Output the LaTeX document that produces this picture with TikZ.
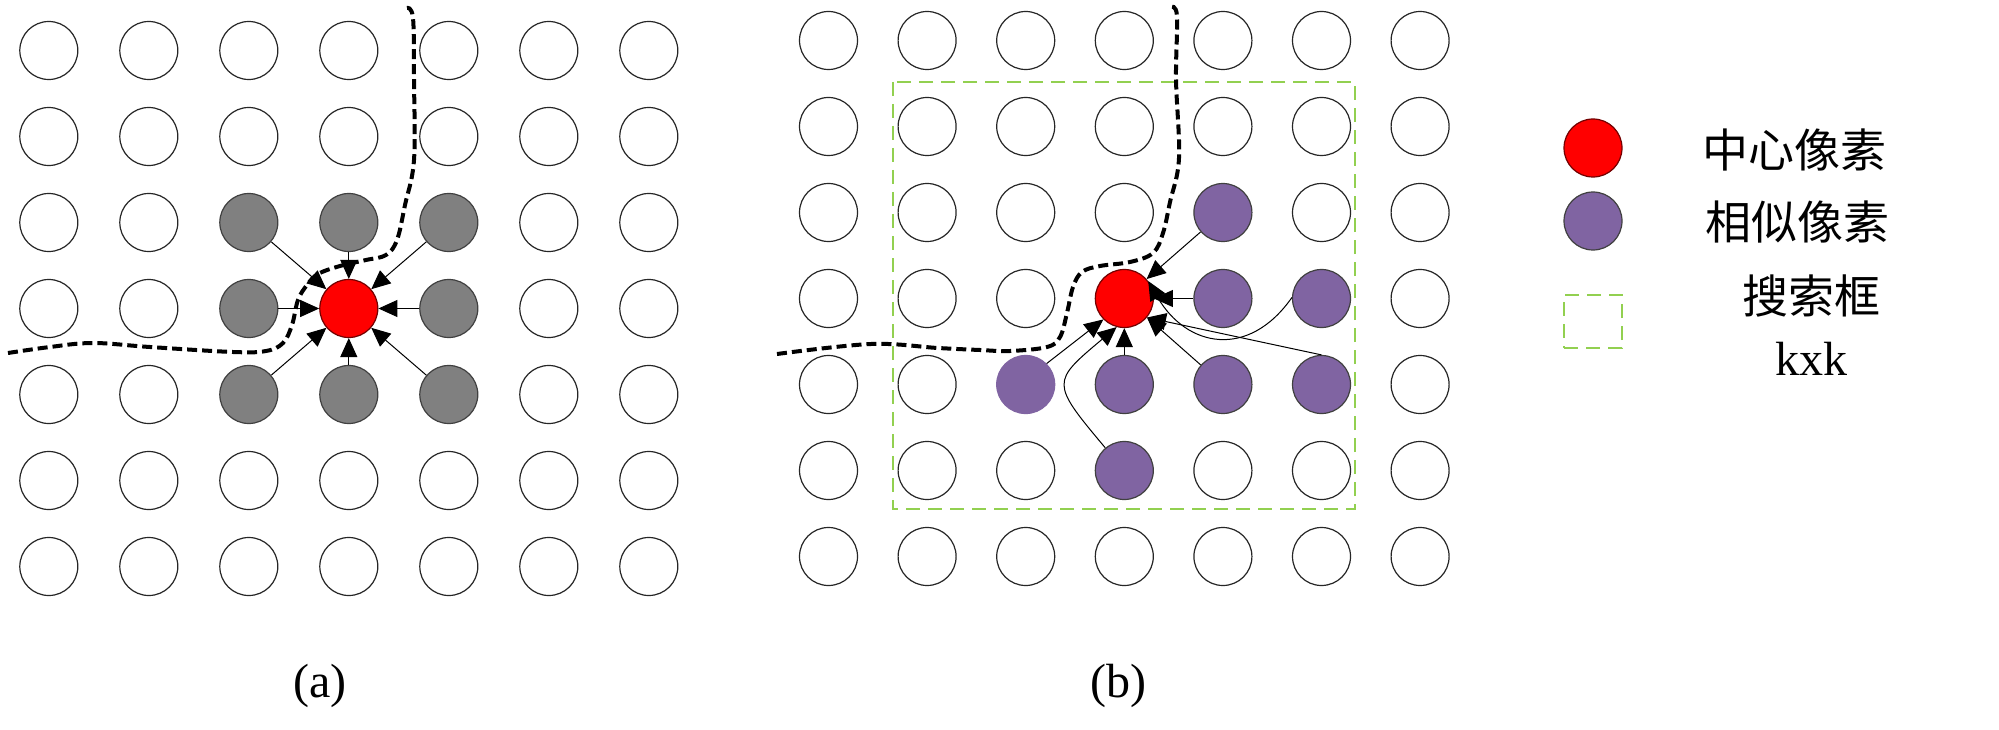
\documentclass[tikz,border=0pt]{standalone}
\usepackage{fontspec}
\setmainfont{Liberation Serif}
\newfontfamily\cjk{Noto Sans CJK SC}
\usetikzlibrary{arrows.meta}
\definecolor{pgray}{RGB}{128,128,128}
\definecolor{ppurple}{RGB}{128,100,162}
\definecolor{pgreen}{RGB}{146,208,80}
\definecolor{pred}{RGB}{255,0,0}
\begin{document}
\begin{tikzpicture}[x=1pt,y=-1pt,
  pix/.style={circle,draw=black!85,line width=1.2pt,minimum size=58pt,inner sep=0pt,fill=white},
  graypix/.style={fill=pgray,draw=black!75},
  redpix/.style={fill=pred,draw=red!45!black},
  purpix/.style={fill=ppurple,draw=black!75},
  softpix/.style={fill=ppurple,draw=ppurple},
  arr/.style={line width=1pt,-{Triangle[length=19pt,width=17pt]}},
  border/.style={line width=4pt,dash pattern=on 10pt off 5pt},
  kbox/.style={draw=pgreen,line width=2pt,dash pattern=on 14pt off 8pt},
  cjktext/.style={font=\cjk\fontsize{46}{50}\selectfont,inner sep=0pt},
  lattext/.style={font=\fontsize{48}{50}\selectfont,inner sep=0pt,anchor=base},
  a22/.style={graypix},a32/.style={graypix},a42/.style={graypix},
  a23/.style={graypix},a33/.style={redpix},a43/.style={graypix},
  a24/.style={graypix},a34/.style={graypix},a44/.style={graypix},
  b33/.style={redpix},b42/.style={purpix},b43/.style={purpix},b53/.style={purpix},
  b24/.style={softpix},b34/.style={purpix},b44/.style={purpix},b54/.style={purpix},
  b35/.style={purpix}
]
\useasboundingbox (0,0) rectangle (1999,730);
\fill[white] (0,0) rectangle (1999,730);

% search box
\draw[kbox] (893,82) rectangle (1355,509);

% grids
\foreach \i in {0,...,6}{
  \foreach \j in {0,...,6}{
    \node[pix,a\i\j/.try] (a\i\j) at ({48.8+100*\i},{50.5+86*\j}) {};
    \node[pix,b\i\j/.try] (b\i\j) at ({828.5+98.6*\i},{40.5+86*\j}) {};
  }
}

% arrows (a)
\foreach \p in {22,32,42,23,43,24,34,44}{
  \draw[arr] (a\p) -- (a33);
}

% arrows (b)
\draw[arr] (b42) -- (b33);
\draw[arr] (b43) -- (b33);
\draw[arr] (b44) -- (b33.-40);
\draw[arr] (b54.north) -- (b33.-40);
\draw[arr] (b34) -- (b33);
\draw[arr] (b24.45) -- (b33.-135);
\draw[arr] (b53.178) to[out=-125,in=-60,looseness=1.35] (b33.36);
\draw[arr] (b35.130) to[out=130,in=-140,looseness=1.8] (b33.-105);

% boundary curves
\draw[border] plot[smooth,tension=0.6] coordinates {(8,353) (50,347) (93,343) (150,347) (233,352) (266,351) (283,343) (292,325) (298,300) (307,285) (318,274) (340,266) (366,260) (386,255) (397,240) (405,205) (414,160) (414,80) (413,18) (407,8)};
\draw[border] plot[smooth,tension=0.6] coordinates {(777,354) (871,344) (938,348) (980,350) (1010,351) (1047,347) (1060,337) (1067,313) (1073,287) (1082,272) (1100,266) (1130,262) (1153,253) (1163,233) (1170,202) (1179,158) (1176,79) (1177,16) (1171,7)};

% legend
\node[pix,redpix] (lred) at (1593,148) {};
\node[pix,purpix] (lpur) at (1593,221) {};
\node[kbox,minimum width=58pt,minimum height=53pt,inner sep=0pt] (lbox) at (1593,321.5) {};
\node[cjktext] (t1) at (1794,150) {中心像素};
\node[cjktext] (t2) at (1797,222) {相似像素};
\node[cjktext] (t3) at (1811,296) {搜索框};
\node[lattext] (t4) at (1811,375) {kxk};

% captions
\node[lattext] (capa) at (320,697) {(a)};
\node[lattext] (capb) at (1118,697) {(b)};
\end{tikzpicture}
\end{document}
